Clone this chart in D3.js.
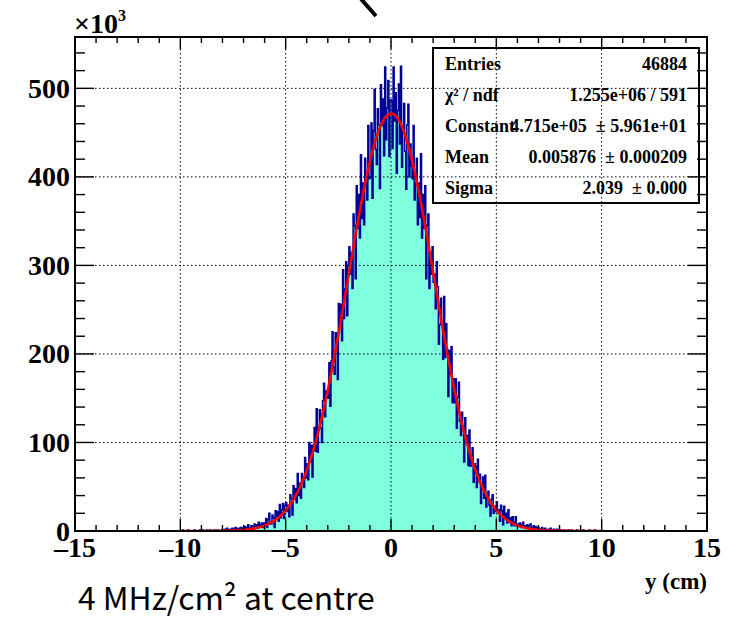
<!DOCTYPE html>
<html>
<head>
<meta charset="utf-8">
<script src="https://cdn.jsdelivr.net/npm/d3@7"></script>
<style>
  body { margin: 0; background: #fff; }
  text { white-space: pre; }
</style>
</head>
<body>
<div id="chart"></div>
<script>
// histogram contents (units of 10^3), bins of 0.05 cm
var binStart = -10, binWidth = 0.05;
var countsNeg = [
  0,0,1,0,0,0,0,1,0,0,0,0,0,1,0,0,0,0,1,0,
  0,1,0,0,0,1,0,0,1,0,0,0,1,0,0,1,0,0,0,1,
  1,0,2,1,3,0,1,2,0,3,1,2,4,1,2,3,1,4,2,3,
  2,5,1,4,7,3,2,6,5,1,8,4,7,3,10,5,7,9,4,9,
  7,14,4,13,20,10,8,18,15,4,23,16,22,11,30,15,24,31,14,29,
  32,22,29,16,41,37,18,51,36,48,32,65,40,54,37,65,56,49,83,60,
  76,58,100,79,97,61,97,117,90,138,89,117,137,116,100,147,167,129,158,152,
  150,190,141,192,225,185,177,224,216,171,257,230,256,215,295,240,274,304,243,300,
  321,290,314,274,358,345,285,390,342,380,331,425,353,393,346,421,393,374,458,398,
  400,461,376,452,499,431,414,477,459,387,504,458,488,424,524,442,478,509,423,487
];
var countsPos = [
  486,432,524,463,495,404,475,505,437,525,411,456,483,429,386,459,482,400,437,412,
  398,458,374,393,421,346,393,354,426,331,380,342,390,285,345,358,274,314,290,321,
  281,290,251,304,276,211,233,263,234,194,265,196,234,205,152,204,177,208,145,172,
  145,172,116,151,168,124,108,134,118,78,128,100,108,74,114,73,85,94,55,76,
  73,49,81,56,64,31,53,61,37,63,27,39,45,29,17,36,41,20,28,22,
  33,21,24,11,29,23,7,28,15,20,9,24,10,15,6,16,10,6,16,7,
  8,6,9,4,7,10,5,6,3,7,4,6,8,3,4,6,2,5,3,4,
  3,2,0,4,1,2,3,1,0,2,1,3,1,0,2,0,1,2,0,1,
  0,1,0,0,1,0,0,0,1,0,0,1,0,0,0,0,1,0,0,0,
  0,0,1,0,0,0,0,0,1,0,0,0,0,1,0,0,0,0,0,0
];

// gaussian fit parameters from the stats box
var fitConstant = 471.5, fitMean = 0.005876, fitSigma = 2.039;
var fitRange = [-10, 10];

var xTicks = [-15, -10, -5, 0, 5, 10, 15];
var yTicks = [0, 100, 200, 300, 400, 500];

var statLabels = ["Entries", "\u03c7\u00b2 / ndf", "Constant", "Mean", "Sigma"];
var statValues = ["46884", "1.255e+06 / 591", "4.715e+05  \u00b1 5.961e+01", "0.005876  \u00b1 0.000209", "2.039  \u00b1 0.000"];

var W = 738, H = 619;
var fL = 75, fR = 707, fT = 37, fB = 531;
var serif = "'Liberation Serif', 'Times New Roman', serif";

var svg = d3.select("#chart").append("svg")
    .attr("width", W)
    .attr("height", H);

var x = d3.scaleLinear().domain([-15, 15]).range([fL, fR]);
var y = d3.scaleLinear().domain([0, 558]).range([fB, fT]);

svg.append("clipPath").attr("id", "frameClip")
  .append("rect")
    .attr("x", fL).attr("y", fT)
    .attr("width", fR - fL).attr("height", fB - fT);

var counts = countsNeg.concat(countsPos);
var pts = [];
counts.forEach(function(v, i) {
    pts.push({x: binStart + i * binWidth, v: v});
});
pts.push({x: binStart + counts.length * binWidth, v: counts[counts.length - 1]});

var plot = svg.append("g").attr("clip-path", "url(#frameClip)");

plot.append("path")
    .datum(pts)
    .attr("fill", "#80ffdf")
    .attr("d", d3.area()
        .curve(d3.curveStepAfter)
        .x(function(d) { return x(d.x); })
        .y0(y(0))
        .y1(function(d) { return y(d.v); }));

plot.append("path")
    .datum(pts)
    .attr("fill", "none")
    .attr("stroke", "#000099")
    .attr("stroke-width", 1.5)
    .attr("d", d3.line()
        .curve(d3.curveStepAfter)
        .x(function(d) { return x(d.x); })
        .y(function(d) { return y(d.v); }));

// fit curve
var fitPts = d3.range(fitRange[0], fitRange[1] + 0.001, 0.02).map(function(t) {
    return {x: t, v: fitConstant * Math.exp(-0.5 * Math.pow((t - fitMean) / fitSigma, 2))};
});
plot.append("path")
    .datum(fitPts)
    .attr("fill", "none")
    .attr("stroke", "#ff0000")
    .attr("stroke-width", 2.6)
    .attr("d", d3.line()
        .x(function(d) { return x(d.x); })
        .y(function(d) { return y(d.v); }));

// stats box
var box = {x0: 433, y0: 48, x1: 699, y1: 203};
svg.append("rect")
    .attr("x", box.x0).attr("y", box.y0)
    .attr("width", box.x1 - box.x0).attr("height", box.y1 - box.y0)
    .attr("fill", "#fff")
    .attr("stroke", "#000")
    .attr("stroke-width", 2);

var rowH = (box.y1 - box.y0) / statLabels.length;
statLabels.forEach(function(s, i) {
    svg.append("text")
        .attr("x", box.x0 + 12)
        .attr("y", box.y0 + rowH * (i + 0.5))
        .attr("dominant-baseline", "central")
        .style("font-family", serif).style("font-weight", "bold").style("font-size", "18px")
        .text(s);
    svg.append("text")
        .attr("x", box.x1 - 12)
        .attr("y", box.y0 + rowH * (i + 0.5))
        .attr("dominant-baseline", "central")
        .attr("text-anchor", "end")
        .style("font-family", serif).style("font-weight", "bold").style("font-size", "18px")
        .text(statValues[i]);
});

// grid
var grid = svg.append("g")
    .attr("stroke", "#000")
    .attr("stroke-width", 1)
    .attr("stroke-dasharray", "1.5,2.5");
xTicks.slice(1, -1).forEach(function(t) {
    grid.append("line").attr("x1", x(t)).attr("x2", x(t)).attr("y1", fT).attr("y2", fB);
});
yTicks.slice(1).forEach(function(t) {
    grid.append("line").attr("x1", fL).attr("x2", fR).attr("y1", y(t)).attr("y2", y(t));
});

// frame
svg.append("rect")
    .attr("x", fL).attr("y", fT)
    .attr("width", fR - fL).attr("height", fB - fT)
    .attr("fill", "none")
    .attr("stroke", "#000")
    .attr("stroke-width", 2);

// ticks
var ticks = svg.append("g").attr("stroke", "#000").attr("stroke-width", 1.4);
d3.range(-15, 15.01, 1).forEach(function(t) {
    var len = (t % 5 === 0) ? 12 : 6;
    ticks.append("line").attr("x1", x(t)).attr("x2", x(t)).attr("y1", fB).attr("y2", fB - len);
    ticks.append("line").attr("x1", x(t)).attr("x2", x(t)).attr("y1", fT).attr("y2", fT + len);
});
d3.range(0, 558, 20).forEach(function(t) {
    var len = (t % 100 === 0) ? 19 : 10;
    ticks.append("line").attr("x1", fL).attr("x2", fL + len).attr("y1", y(t)).attr("y2", y(t));
    ticks.append("line").attr("x1", fR).attr("x2", fR - len).attr("y1", y(t)).attr("y2", y(t));
});

// tick labels
xTicks.forEach(function(t) {
    svg.append("text")
        .attr("x", x(t))
        .attr("y", 557)
        .attr("text-anchor", "middle")
        .style("font-family", serif).style("font-weight", "bold").style("font-size", "28px")
        .text(t < 0 ? "\u2013" + Math.abs(t) : String(t));
});
yTicks.forEach(function(t) {
    svg.append("text")
        .attr("x", 70)
        .attr("y", y(t))
        .attr("dominant-baseline", "central")
        .attr("text-anchor", "end")
        .style("font-family", serif).style("font-weight", "bold").style("font-size", "28px")
        .text(String(t));
});

// exponent
var expo = svg.append("text")
    .attr("x", 74).attr("y", 33)
    .style("font-family", serif).style("font-weight", "bold").style("font-size", "28px");
expo.append("tspan").text("\u00d710");
expo.append("tspan").attr("dy", -12).style("font-size", "16px").text("3");

// axis title
svg.append("text")
    .attr("x", fR).attr("y", 589)
    .attr("text-anchor", "end")
    .style("font-family", serif).style("font-weight", "bold").style("font-size", "23px")
    .text("y (cm)");

// annotation
var note = svg.append("text")
    .attr("x", 78).attr("y", 610)
    .style("font-family", "'Noto Sans CJK JP', 'Noto Sans', sans-serif")
    .style("font-size", "32px")
    .text("4 MHz/cm\u00b2 at centre");
var w = note.node().getComputedTextLength();
note.style("font-size", (32 * 297 / w).toFixed(1) + "px");

// cut-off title fragment at top
svg.append("line")
    .attr("x1", 361).attr("y1", -1)
    .attr("x2", 376).attr("y2", 16)
    .attr("stroke", "#000")
    .attr("stroke-width", 4);
</script>
</body>
</html>
